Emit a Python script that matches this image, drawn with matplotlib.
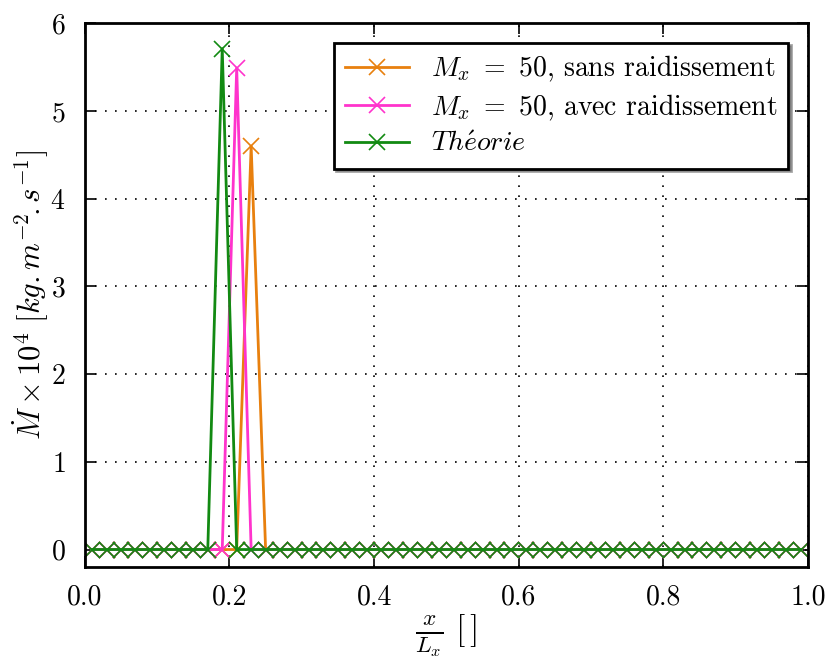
import numpy as np
import matplotlib
matplotlib.use("Agg")
import matplotlib.pyplot as plt

# Maillage : centres de cellules, Mx = 50
Mx = 50
x = (np.arange(Mx) + 0.5) / Mx

# Valeurs non nulles (indice de cellule -> valeur)
sans_idx, sans_val = [11], [4.60]
avec_idx, avec_val = [10], [5.49]
theo_idx, theo_val = [9], [5.71]

y_sans = np.zeros(Mx)
y_sans[sans_idx] = sans_val
y_avec = np.zeros(Mx)
y_avec[avec_idx] = avec_val
y_theo = np.zeros(Mx)
y_theo[theo_idx] = theo_val

plt.rcParams["font.family"] = "serif"
plt.rcParams["font.serif"] = ["cmr10"]
plt.rcParams["mathtext.fontset"] = "cm"
plt.rcParams["axes.formatter.use_mathtext"] = True
plt.rcParams["font.size"] = 20

fig = plt.figure(figsize=(8.32, 6.64), dpi=100)
ax = fig.add_axes([0.102, 0.146, 0.869, 0.819])

ax.plot(x, y_sans, color="#e8800e", marker="x", markersize=12, markeredgewidth=1.2,
        linewidth=2, label=r"$M_x\ =\ 50$, sans raidissement")
ax.plot(x, y_avec, color="#ff33cc", marker="x", markersize=12, markeredgewidth=1.2,
        linewidth=2, label=r"$M_x\ =\ 50$, avec raidissement")
ax.plot(x, y_theo, color="#128a12", marker="x", markersize=12, markeredgewidth=1.2,
        linewidth=2, label=r"$Th\acute{e}orie$")

ax.set_xlim(0, 1)
ax.set_ylim(-0.2, 6)
ax.set_xticks([0.0, 0.2, 0.4, 0.6, 0.8, 1.0])
ax.set_xticklabels(["0.0", "0.2", "0.4", "0.6", "0.8", "1.0"])
ax.set_yticks([0, 1, 2, 3, 4, 5, 6])
ax.grid(True, color="black", linestyle=(0, (1, 5)), linewidth=1.2)
ax.tick_params(axis="x", direction="in", top=True, length=8, width=1.2, pad=12, labelsize=20)
ax.tick_params(axis="y", direction="in", right=True, length=8, width=1.2, pad=14, labelsize=20)
for s in ax.spines.values():
    s.set_linewidth(2)

ax.set_xlabel(r"$\frac{x}{L_x}\ [\,]$", fontsize=24, labelpad=2)
ax.set_ylabel(r"$\dot{M} \times 10^4\ [kg.m^{-2}\!.s^{-1}]$", fontsize=22, va="center")
ax.yaxis.set_label_coords(-0.075, 0.5)

leg = ax.legend(loc="upper right", shadow=True, fancybox=False, fontsize=20,
                handlelength=2.3, borderaxespad=0.7, labelspacing=0.3, borderpad=0.4)
leg.get_frame().set_edgecolor("black")
leg.get_frame().set_linewidth(2)

plt.savefig("out.png", dpi=100)
